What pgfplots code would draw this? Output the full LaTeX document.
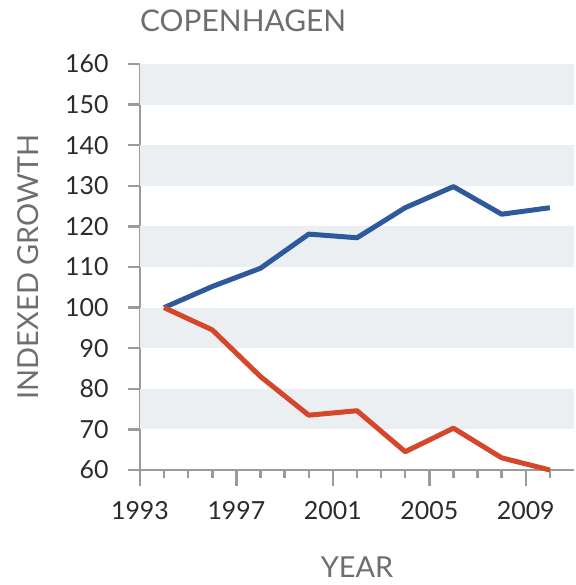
\documentclass[border=0pt]{standalone}
\usepackage{pgfplots}
\pgfplotsset{compat=1.18}
\usepackage{fontspec}
\setmainfont{Lato}

\definecolor{blueline}{HTML}{2E5A9C}
\definecolor{redline}{HTML}{D6462A}
\definecolor{band}{HTML}{ECEFF2}
\definecolor{axisgray}{HTML}{9B9B9B}
\definecolor{labgray}{HTML}{6D6E71}
\definecolor{tickgray}{HTML}{2B2B2B}

\begin{document}
\begin{tikzpicture}
\begin{axis}[
    scale only axis,
    width=434bp, height=406bp,
    xmin=1993, xmax=2011,
    ymin=60, ymax=160,
    clip=false,
    axis x line*=bottom,
    axis y line*=left,
    axis line style={axisgray, line width=2.5bp},
    xtick={1993,1997,2001,2005,2009},
    minor xtick={1994,1995,1996,1998,1999,2000,2002,2003,2004,2006,2007,2008,2010},
    ytick={60,70,...,160},
    tick align=outside,
    major tick length=16bp,
    minor tick length=8bp,
    tick style={axisgray, line width=2.5bp},
    ytick style={/pgfplots/major tick length=12bp},
    tick label style={font=\fontsize{25}{29}\selectfont, text=tickgray},
    /pgf/number format/assume math mode=true,
    /pgf/number format/1000 sep={},
    xticklabel style={yshift=-12bp},
    yticklabel style={xshift=-12bp},
]
% background bands
\fill[band] (axis cs:1993,150) rectangle (axis cs:2011,160);
\fill[band] (axis cs:1993,130) rectangle (axis cs:2011,140);
\fill[band] (axis cs:1993,110) rectangle (axis cs:2011,120);
\fill[band] (axis cs:1993,90) rectangle (axis cs:2011,100);
\fill[band] (axis cs:1993,70) rectangle (axis cs:2011,80);

\addplot[blueline, line width=5bp, line join=round] coordinates {
    (1994,100)(1996,105.2)(1998,109.7)(2000,118.1)(2002,117.2)
    (2004,124.6)(2006,129.8)(2008,123)(2010,124.6)
};
\addplot[redline, line width=5bp, line join=round] coordinates {
    (1994,100)(1996,94.5)(1998,83)(2000,73.5)(2002,74.6)
    (2004,64.5)(2006,70.3)(2008,63)(2010,60)
};

\node[anchor=base west, text=labgray, font=\fontsize{30}{34}\selectfont, inner sep=0pt]
    at ([xshift=0bp,yshift=32bp]rel axis cs:0,1) {COPENHAGEN};
\node[rotate=90, anchor=center, text=labgray, font=\fontsize{29}{33}\selectfont]
    at ([xshift=-112bp]rel axis cs:0,0.5) {INDEXED GROWTH};
\node[anchor=center, text=labgray, font=\fontsize{29}{33}\selectfont]
    at ([yshift=-97bp]rel axis cs:0.5,0) {YEAR};

% page frame
\path ([xshift=-140bp,yshift=-115bp]rel axis cs:0,0) rectangle ([yshift=64bp]rel axis cs:1,1);
\end{axis}
\end{tikzpicture}
\end{document}
